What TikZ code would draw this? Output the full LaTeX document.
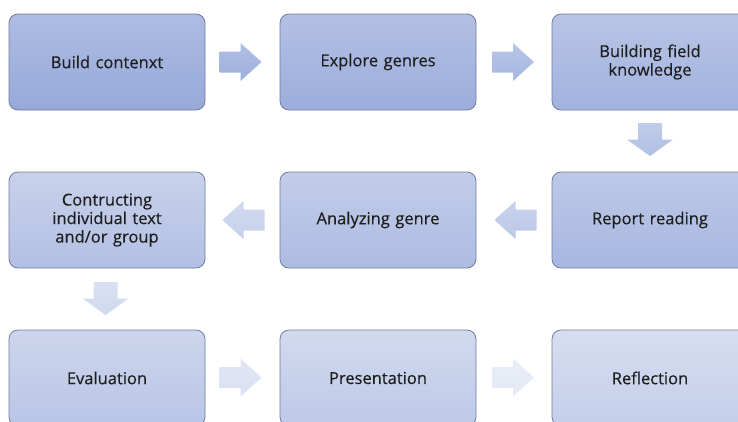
\documentclass[tikz,border=0pt]{standalone}
\usepackage{fontspec}
\setmainfont{Open Sans}
\newfontfamily\stagefont{Open Sans}[FakeBold=0.35]
\usepackage{tikz}
\usetikzlibrary{positioning}

\definecolor{boxline}{HTML}{707C9C}
\definecolor{boxtopA}{HTML}{AEBCE2}
\definecolor{boxbotA}{HTML}{96A9DA}
\definecolor{boxtopB}{HTML}{D7DEF0}
\definecolor{boxbotB}{HTML}{C4CEEA}
\definecolor{arrA}{HTML}{9CAFDD}
\definecolor{arrB}{HTML}{E4E9F5}
\definecolor{steptext}{HTML}{1E1E1E}

\tikzset{
  stagebox/.style={draw=boxline, line width=0.8pt, rounded corners=9pt,
    minimum width=196pt, minimum height=96pt, text width=180pt, align=center,
    text=steptext, font=\stagefont\fontsize{16.5}{18.5}\selectfont,
    top color=boxtopB!#1!boxtopA, bottom color=boxbotB!#1!boxbotA},
  blk/.style={top color=arrB!#1!arrA!80!white, bottom color=arrB!#1!arrA}
}

% block arrows, centre given
\newcommand{\rightblk}[2]{\shade[blk=#2, shift={(#1)}] (-21,-10.5) -- (0,-10.5) -- (0,-19) -- (21,0) -- (0,19) -- (0,10.5) -- (-21,10.5) -- cycle;}
\newcommand{\leftblk}[2]{\shade[blk=#2, shift={(#1)}] (21,-10.5) -- (0,-10.5) -- (0,-19) -- (-21,0) -- (0,19) -- (0,10.5) -- (21,10.5) -- cycle;}
\newcommand{\downblk}[2]{\shade[blk=#2, shift={(#1)}] (-12,-16.5) -- (-12,0) -- (-23,0) -- (0,16.5) -- (23,0) -- (12,0) -- (12,-16.5) -- cycle;}

\begin{document}
\begin{tikzpicture}[x=1pt, y=-1pt]
\useasboundingbox (0,0) rectangle (738,421);

% boxes
\node[stagebox=0]   at (107,62)  (build)   {Build contenxt};
\node[stagebox=12]  at (378,62)  (explore) {Explore genres};
\node[stagebox=25]  at (650,62)  (field)   {Building field\\knowledge};
\node[stagebox=37]  at (650,220) (report)  {Report reading};
\node[stagebox=50]  at (378,220) (analyze) {Analyzing genre};
\node[stagebox=62]  at (107,220) (construct) {Contructing\\individual text\\and/or group};
\node[stagebox=75]  at (107,378) (eval)    {Evaluation};
\node[stagebox=87]  at (378,378) (present) {Presentation};
\node[stagebox=100] at (650,378) (reflect) {Reflection};

% arrows between them
\rightblk{240.5,62}{0}
\rightblk{513,62}{14}
\downblk{650,139.5}{28}
\leftblk{515.5,220}{42}
\leftblk{243.5,220}{57}
\downblk{105.5,298.5}{71}
\rightblk{240.5,377.5}{85}
\rightblk{513,377.5}{100}

\end{tikzpicture}
\end{document}
